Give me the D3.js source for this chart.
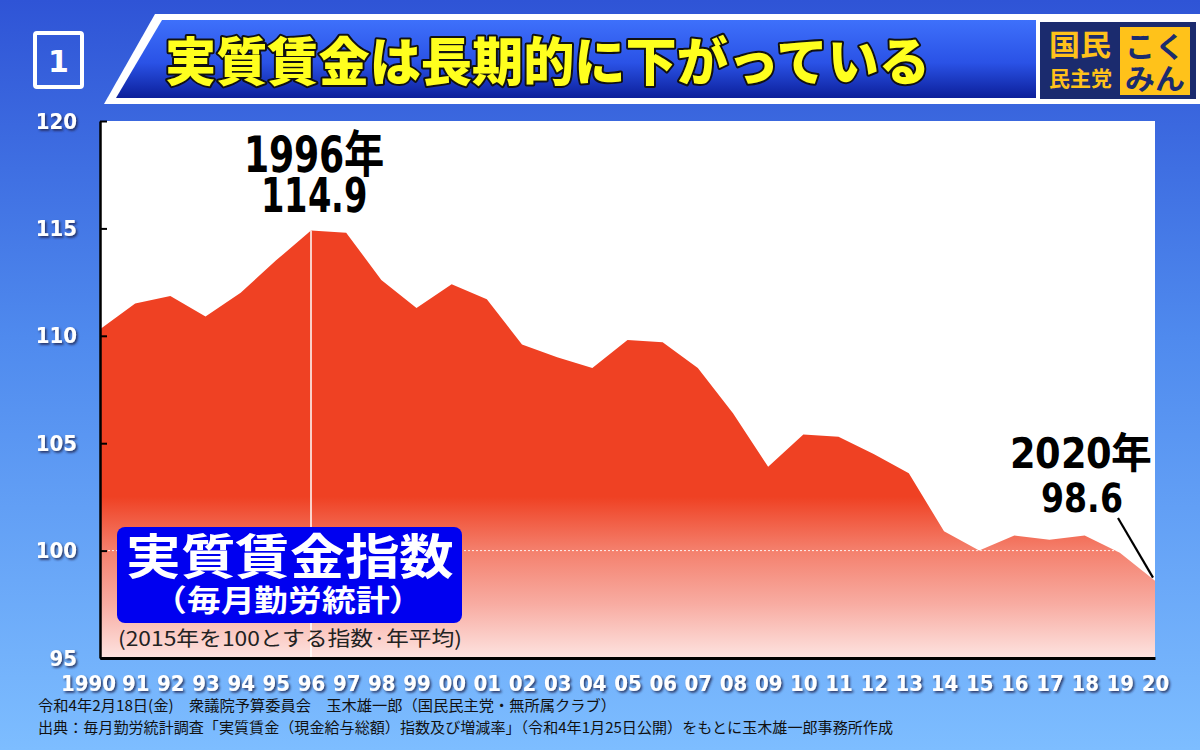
<!DOCTYPE html>
<html><head><meta charset="utf-8">
<script src="https://cdn.jsdelivr.net/npm/d3@7"></script>
<style>
@font-face{font-family:"AnnoNum";font-weight:700;
  src:local("DejaVu Sans Condensed Bold"),local("DejaVuSansCondensed-Bold"),local("DejaVu Sans Bold"),local("DejaVuSans-Bold");
  ascent-override:76%;descent-override:2%;line-gap-override:0%;}
@font-face{font-family:"AnnoJP";font-weight:700;
  src:local("Noto Sans CJK JP Bold"),local("NotoSansCJKjp-Bold"),local("Noto Sans CJK SC Bold"),local("NotoSansCJKsc-Bold");
  ascent-override:86%;descent-override:6%;line-gap-override:0%;}
html,body{margin:0;padding:0;background:#4a7fe8;}
svg{display:block;}
</style></head>
<body>
<svg id="c" width="1200" height="750"></svg>
<script>
// ---- data ----
const years = [1990,1991,1992,1993,1994,1995,1996,1997,1998,1999,2000,2001,2002,2003,2004,2005,2006,2007,2008,2009,2010,2011,2012,2013,2014,2015,2016,2017,2018,2019,2020];
const wageIndex = [110.3,111.5,111.85,110.9,112.0,113.5,114.9,114.8,112.6,111.3,112.4,111.7,109.6,109.0,108.5,109.8,109.7,108.5,106.4,103.9,105.4,105.3,104.5,103.6,100.9,100.0,100.7,100.5,100.7,99.9,98.6];
const xTickLabels = ["1990","91","92","93","94","95","96","97","98","99","00","01","02","03","04","05","06","07","08","09","10","11","12","13","14","15","16","17","18","19","20"];
const yTicks = [95,100,105,110,115,120];
const titleText = "実質賃金は長期的に下がっている";
const peakLabel = ["1996年","114.9"];
const lastLabel = ["2020年","98.6"];
const legendMain = "実質賃金指数";
const legendSub = "（毎月勤労統計）";
const legendNote = "(2015年を100とする指数·年平均)";
const logoLeft = ["国民","民主党"];
const logoRight = ["こく","みん"];
const foot1 = "令和4年2月18日(金)　衆議院予算委員会　玉木雄一郎（国民民主党・無所属クラブ）";
const foot2 = "出典：毎月勤労統計調査「実質賃金（現金給与総額）指数及び増減率」（令和4年1月25日公開）をもとに玉木雄一郎事務所作成";

const svg = d3.select("#c");
const W = 1200, H = 750;
const L = 100, R = 1155, T = 121, B = 658;
const jp = "'Noto Sans CJK JP','Noto Sans',sans-serif";
const jpT = "'AnnoJP','Noto Sans CJK JP',sans-serif";
const num = "'DejaVu Sans',sans-serif";
const numT = "'AnnoNum','AnnoJP','DejaVu Sans',sans-serif";

const defs = svg.append("defs");
const bg = defs.append("linearGradient").attr("id","bg").attr("x1",0).attr("y1",0).attr("x2",0).attr("y2",1);
bg.append("stop").attr("offset",0).attr("stop-color","#2f54d6");
bg.append("stop").attr("offset",0.45).attr("stop-color","#4f8aee");
bg.append("stop").attr("offset",1).attr("stop-color","#7dbdff");
const hb = defs.append("linearGradient").attr("id","hb").attr("x1",0).attr("y1",0).attr("x2",0).attr("y2",1);
hb.append("stop").attr("offset",0).attr("stop-color","#3e70fb");
hb.append("stop").attr("offset",0.55).attr("stop-color","#2a52e6");
hb.append("stop").attr("offset",1).attr("stop-color","#0c1f9a");
const ag = defs.append("linearGradient").attr("id","ag").attr("gradientUnits","userSpaceOnUse")
  .attr("x1",0).attr("y1",T).attr("x2",0).attr("y2",B);
[[0,"#ef4123"],[0.70,"#ef4123"],[0.80,"#f4806d"],[0.90,"#f8aca2"],[1,"#fde3e0"]].forEach(s=>
  ag.append("stop").attr("offset",s[0]).attr("stop-color",s[1]));
const sh = defs.append("filter").attr("id","sh").attr("x","-20%").attr("y","-30%").attr("width","150%").attr("height","170%");
sh.append("feDropShadow").attr("dx",1.6).attr("dy",1.8).attr("stdDeviation",0.9).attr("flood-color","#1a2550").attr("flood-opacity",0.85);

function label(txt, cx, base, fs, w, fill, family, weight){
  return svg.append("text").attr("x",cx).attr("y",base).attr("text-anchor","middle")
    .attr("font-family",family).attr("font-weight",weight||"bold").attr("font-size",fs).attr("fill",fill)
    .attr("textLength",w).attr("lengthAdjust","spacingAndGlyphs").text(txt);
}

// background
svg.append("rect").attr("width",W).attr("height",H).attr("fill","url(#bg)");

// header
svg.append("path").attr("d","M155,14 L1200,14 L1200,104 L104,104 Z").attr("fill","#ffffff");
svg.append("path").attr("d","M162,20 L1036,20 L1036,98 L116,98 Z").attr("fill","url(#hb)");
svg.append("rect").attr("x",35).attr("y",33).attr("width",47).attr("height",54).attr("fill","none")
  .attr("stroke","#fff").attr("stroke-width",4).attr("rx",2);
svg.append("text").attr("x",58.5).attr("y",72).attr("text-anchor","middle").attr("font-family",num)
  .attr("font-weight","bold").attr("font-size",30).attr("fill","#fff").text("1");
svg.append("text").attr("x",165).attr("y",81).attr("font-family",jp).attr("font-weight",900)
  .attr("font-size",52).attr("fill","#ffff1e").attr("stroke","#111").attr("stroke-width",4)
  .attr("paint-order","stroke").attr("stroke-linejoin","round")
  .attr("textLength",765).attr("lengthAdjust","spacingAndGlyphs").text(titleText);

// logo
svg.append("rect").attr("x",1040).attr("y",22).attr("width",156).attr("height",77).attr("fill","#1b2b6e");
svg.append("rect").attr("x",1120).attr("y",27).attr("width",70).attr("height",68).attr("fill","#ffc21a");
label(logoLeft[0],1080,56,29,62,"#ffc21a",jpT);
label(logoLeft[1],1080,86,21,63,"#ffc21a",jpT);
label(logoRight[0],1155,58,29,60,"#1b2b6e",jpT);
label(logoRight[1],1155,90,29,60,"#1b2b6e",jpT);

// scales
const x = d3.scaleLinear().domain([years[0], years[years.length-1]]).range([L,R]);
const y = d3.scaleLinear().domain([95,120]).range([B,T]);

// plot background
svg.append("rect").attr("x",L).attr("y",T).attr("width",R-L).attr("height",B-T).attr("fill","#fff");

// area
const area = d3.area().x((d,i)=>x(years[i])).y0(B).y1(d=>y(d));
svg.append("path").datum(wageIndex).attr("d",area).attr("fill","url(#ag)");

// dotted 100 line
svg.append("line").attr("x1",L).attr("x2",R).attr("y1",y(100)).attr("y2",y(100))
  .attr("stroke","#fff").attr("stroke-width",1).attr("stroke-dasharray","2,2").attr("opacity",0.9);

// peak vertical line
const pi = years.indexOf(1996);
svg.append("line").attr("x1",x(1996)).attr("x2",x(1996)).attr("y1",y(wageIndex[pi])).attr("y2",B)
  .attr("stroke","#fff").attr("stroke-width",1.5);

// y axis
const yAxis = d3.axisLeft(y).tickValues(yTicks).tickSizeInner(-7).tickSizeOuter(0).tickPadding(23).tickFormat(d3.format("d"));
const gy = svg.append("g").attr("transform",`translate(${L},0)`).call(yAxis);
gy.select(".domain").attr("stroke","#000").attr("stroke-width",2.5);
gy.selectAll(".tick line").attr("stroke","#000").attr("stroke-width",2);
gy.selectAll(".tick text").attr("font-family",num).attr("font-weight","bold").attr("font-stretch","condensed")
  .attr("font-size",22).attr("fill","#fff").attr("filter","url(#sh)");

// x axis
const xAxis = d3.axisBottom(x).tickValues(years).tickSize(0).tickPadding(17).tickFormat((d,i)=>xTickLabels[i]);
const gx = svg.append("g").attr("transform",`translate(0,${B})`).call(xAxis);
gx.select(".domain").attr("stroke","#000").attr("stroke-width",3);
gx.selectAll(".tick text").attr("font-family",num).attr("font-weight","bold").attr("font-stretch","condensed")
  .attr("font-size",22).attr("fill","#fff").attr("filter","url(#sh)");
gx.selectAll(".tick text").filter((d,i)=>i===0).attr("dx",-12);

// legend
svg.append("rect").attr("x",117).attr("y",527).attr("width",345).attr("height",96).attr("rx",8).attr("fill","#0000f0");
label(legendMain,290,574,48,328,"#fff",jpT);
label(legendSub,288,611,30,270,"#fff",jpT);
svg.append("text").attr("x",290).attr("y",646).attr("text-anchor","middle").attr("font-family",jp)
  .attr("font-size",20).attr("fill","#222").attr("textLength",344).attr("lengthAdjust","spacingAndGlyphs").text(legendNote);

// annotations
label(peakLabel[0],314,172,50,140,"#000",numT).attr("font-stretch","condensed");
label(peakLabel[1],314,212,48,106,"#000",numT).attr("font-stretch","condensed");
label(lastLabel[0],1081,468,42,142,"#000",numT).attr("font-stretch","condensed");
label(lastLabel[1],1082,512,40,82,"#000",numT).attr("font-stretch","condensed");
svg.append("line").attr("x1",1118).attr("y1",518).attr("x2",x(2020)-2).attr("y2",y(wageIndex[wageIndex.length-1])-3)
  .attr("stroke","#000").attr("stroke-width",2.2);

// footnotes
svg.append("text").attr("x",38).attr("y",711).attr("font-family",jp).attr("font-size",15).attr("fill","#111")
  .attr("textLength",578).attr("lengthAdjust","spacingAndGlyphs").text(foot1);
svg.append("text").attr("x",38).attr("y",733).attr("font-family",jp).attr("font-size",15).attr("fill","#111")
  .attr("textLength",855).attr("lengthAdjust","spacingAndGlyphs").text(foot2);
</script>
</body></html>
